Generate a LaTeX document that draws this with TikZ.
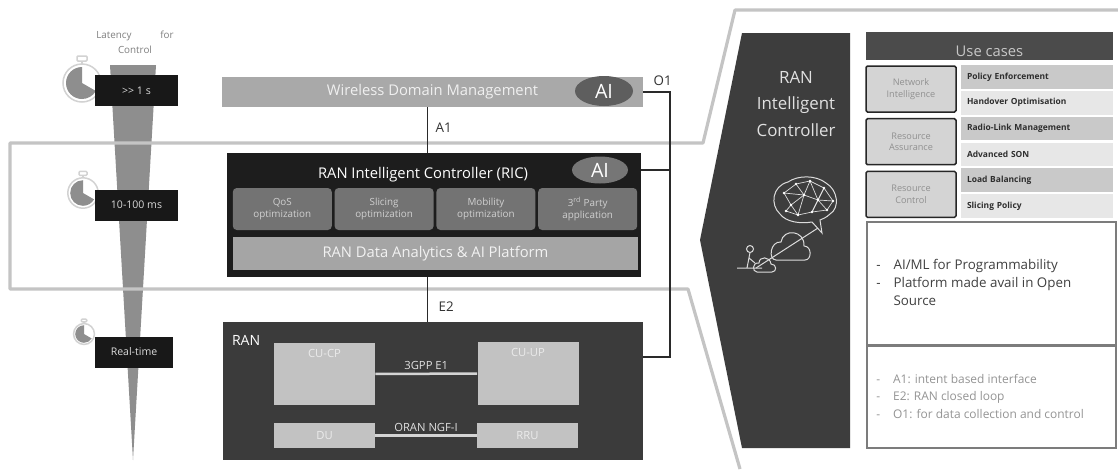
\documentclass[tikz,border=0pt]{standalone}
\usepackage{fontspec}
\setmainfont{Open Sans}
\usepackage{tikz}
\usetikzlibrary{positioning,shapes.geometric,calc}
\newlength\pxu
\setlength\pxu{0.025cm}
\definecolor{wedgegray}{HTML}{8E8E8E}
\definecolor{framegray}{HTML}{C4C4C4}
\definecolor{ringgray}{HTML}{D2D2D2}
\definecolor{tagblack}{HTML}{181818}
\definecolor{tagtext}{HTML}{DADADA}
\definecolor{wdmgray}{HTML}{A9A9A9}
\definecolor{aidark}{HTML}{5E5E5E}
\definecolor{ricblack}{HTML}{1D1D1D}
\definecolor{appgray}{HTML}{737373}
\definecolor{apptext}{HTML}{D0D0D0}
\definecolor{platgray}{HTML}{A5A5A5}
\definecolor{rangray}{HTML}{3B3B3B}
\definecolor{unitgray}{HTML}{C2C2C2}
\definecolor{linkgray}{HTML}{D4D4D4}
\definecolor{wire}{HTML}{2A2A2A}
\definecolor{panelgray}{HTML}{3D3D3D}
\definecolor{iconline}{HTML}{DCDCDC}
\definecolor{headgray}{HTML}{4B4B4B}
\definecolor{grpfill}{HTML}{D4D4D4}
\definecolor{grptext}{HTML}{909090}
\definecolor{item1}{HTML}{C9C9C9}
\definecolor{item0}{HTML}{E7E7E7}
\definecolor{notegray}{HTML}{7C7C7C}
\tikzset{
  wedge/.style={fill=wedgegray},
  frame/.style={draw=framegray,line width=3.2\pxu,line join=round},
  tag/.style={rectangle,fill=tagblack,text=tagtext,inner sep=0pt,
    minimum height=31\pxu,font=\fontsize{7.5}{9}\selectfont},
  bar/.style={rectangle,inner sep=0pt},
  aibadge/.style={ellipse,inner sep=0pt,text=white,font=\fontsize{14}{16}\selectfont},
  title/.style={text=white,font=\fontsize{10.5}{12}\selectfont},
  app/.style={rectangle,rounded corners=4\pxu,fill=appgray,text=apptext,
    align=center,inner sep=0pt,minimum width=99\pxu,minimum height=42\pxu,
    font=\fontsize{7}{8.5}\selectfont},
  unit/.style={rectangle,fill=unitgray,inner sep=0pt,minimum width=101\pxu,
    text=white!92!black,font=\fontsize{8}{9}\selectfont},
  wire/.style={draw=wire,line width=1.3\pxu},
  link/.style={draw=linkgray,line width=2.5\pxu},
  linklbl/.style={text=white!88!black,inner sep=1pt,font=\fontsize{8}{9}\selectfont},
  ifc/.style={text=black!80,inner sep=1pt,font=\fontsize{9.5}{11}\selectfont},
  icon/.style={draw=iconline,line width=1\pxu},
  grp/.style={rectangle,fill=grpfill,draw=black!85,line width=1.5\pxu,
    rounded corners=1.5\pxu,minimum width=90\pxu,minimum height=46\pxu,
    align=center,text=grptext,inner sep=0pt,font=\fontsize{6.5}{8}\selectfont},
  item/.style={rectangle,minimum height=23.5\pxu,inner xsep=6\pxu,inner ysep=0pt,
    text width=140\pxu,align=left,text=black!82,font=\bfseries\fontsize{6}{7}\selectfont},
  note/.style={rectangle,draw=notegray,fill=white,line width=1.3\pxu,
    minimum width=249\pxu,inner sep=0pt},
  watch/.pic={
    \draw[draw=ringgray,line width=2\pxu] (0,-19) -- (0,-22);
    \draw[draw=ringgray,fill=white,line width=1.5\pxu,rounded corners=1\pxu]
      (-5,-27) rectangle (5,-22);
    \draw[draw=ringgray,fill=white,line width=1.5\pxu] (0,0) circle[radius=19];
    \fill[wedgegray] (0,0) -- (0,-16) arc[start angle=-90,end angle=-330,radius=16] -- cycle;
  },
}

\begin{document}
\begin{tikzpicture}[x=\pxu,y=-\pxu]
  \fill[white] (0,0) rectangle (1118,469);
  \useasboundingbox (0,0) rectangle (1118,469);

  % latency scale on the left
  \fill[wedge] (110,65) -- (156,65) -- (133,460) -- cycle;
  \node[text=black!50,align=center,font=\fontsize{7}{10.5}\selectfont] (latency) at (135,42)
    {\makebox[55pt][s]{Latency\hfill for}\\Control};

  % band around the near-RT layer
  \draw[frame] (1118,10) -- (735,10) -- (703,143) -- (10,143) -- (10,289)
    -- (688,289) -- (740,469);

  \pic at (82,83) {watch};
  \pic[scale=0.8] at (83,193) {watch};
  \pic[scale=0.55] at (84,334) {watch};
  \node[tag,minimum width=83\pxu] (slow) at (136.5,90.5) {>{}> 1 s};
  \node[tag,minimum width=83\pxu] (mid) at (136.5,205) {10-100 ms};
  \node[tag,minimum width=78\pxu] (rt) at (134,352) {Real-time};

  % management, RIC and RAN stack
  \coordinate (spine) at (427.5,0);
  \node[bar,fill=wdmgray,minimum width=421\pxu,minimum height=30\pxu,
    text=white!94!black,font=\fontsize{10.5}{12}\selectfont] (wdm) at (432.5,92)
    {Wireless Domain Management};
  \node[aibadge,fill=aidark,minimum width=58\pxu,minimum height=30\pxu] (wdmai) at (604,91) {AI};

  \node[bar,fill=ricblack,minimum width=414\pxu,minimum height=124\pxu] (ric) at (434,215) {};
  \node[title] (rictitle) at (423,175) {RAN Intelligent Controller (RIC)};
  \node[aibadge,fill=aidark!85!white,minimum width=56\pxu,minimum height=27\pxu] (ricai) at (600,170) {AI};
  \foreach \txt [count=\i] in {QoS\\optimization,Slicing\\optimization,
      Mobility\\optimization,3\textsuperscript{rd} Party\\application}
    \node[app] (app\i) at ({180.5+101.8*\i},209) {\txt};
  \node[bar,fill=platgray,minimum width=405\pxu,minimum height=33\pxu,
    text=white!95!black,font=\fontsize{10.5}{12}\selectfont] (plat) at (435.5,253.5)
    {RAN Data Analytics \& AI Platform};

  \node[bar,fill=rangray,minimum width=420\pxu,minimum height=138\pxu] (ran) at (433,391) {};
  \node[text=white,inner sep=0pt,font=\fontsize{10}{12}\selectfont,
    below right=13\pxu and 9\pxu of ran.north west] (ranlbl) {RAN};
  \node[unit,minimum height=62\pxu] (cucp) at (324.5,374) {};
  \node[unit,minimum height=63\pxu] (cuup) at (528,373.5) {};
  \node[unit,minimum height=25\pxu] (du) at (324.5,435.5) {DU};
  \node[unit,minimum height=25\pxu] (rru) at (527.5,435.5) {RRU};
  \node[unit,fill=none,below=6\pxu of cucp.north] {CU-CP};
  \node[unit,fill=none,below=6\pxu of cuup.north] {CU-UP};
  \draw[link] (cucp) -- node[linklbl,midway,above=1\pxu] {3GPP E1} (cuup);
  \draw[link] (du) -- node[linklbl,midway,above=1\pxu] {ORAN NGF-I} (rru);

  % A1, E2 and O1 interfaces
  \draw[wire] (spine |- wdm.south) -- (spine |- ric.north);
  \node[ifc,anchor=west] (a1) at (434,128) {A1};
  \draw[wire] (spine |- ric.south) -- (spine |- ran.north);
  \node[ifc,anchor=west] (e2) at (437,307) {E2};
  \coordinate (bustop) at (670,92);
  \coordinate (busbot) at (670,357);
  \draw[wire] (wdm.east) -- (bustop) -- (busbot) -- (busbot -| ran.east);
  \draw[wire] (ric.east |- ricai) -- (bustop |- ricai);
  \node[ifc,anchor=west] (o1) at (652,81) {O1};

  % RIC summary panel
  \fill[panelgray] (742,33) -- (850,33) -- (850,448) -- (742,448) -- (700,240) -- cycle;
  \node[text=white!88!black,align=center,font=\fontsize{12}{19}\selectfont] (rictxt) at (796,104)
    {RAN\\Intelligent\\Controller};
  % brain and cloud sketch
  \draw[icon] (780,214) .. controls (770,205) and (772,186) .. (788,182)
    .. controls (798,175) and (816,175) .. (826,183)
    .. controls (838,190) and (840,208) .. (830,214)
    .. controls (826,218) and (822,219) .. (820,220) -- (822,233) -- (812,222)
    .. controls (800,224) and (786,222) .. (780,214) -- cycle;
  \foreach \px/\py [count=\k] in {784/193,796/184,810/181,824/188,833/201,791/205,
      804/195,818/200,812/212,827/210,798/215,786/211}
    \coordinate (n\k) at (\px,\py);
  \foreach \a/\b in {1/2,2/3,3/4,4/5,1/6,1/7,2/7,3/7,3/8,4/8,5/8,5/10,6/7,7/8,
      8/9,8/10,9/10,6/11,7/11,9/11,6/12,11/12,9/4}
    \draw[icon,line width=0.7\pxu] (n\a) -- (n\b);
  \foreach \k in {1,...,12}
    \fill[white] (n\k) circle[radius=1.4];
  \draw[icon] (776,260) -- (805,260) .. controls (812,260) and (812,246) .. (804,246)
    .. controls (805,230) and (783,228) .. (781,242)
    .. controls (770,241) and (768,260) .. (776,260) -- cycle;
  \draw[icon] (757,272) -- (772,272) .. controls (777,272) and (777,264) .. (771,264)
    .. controls (770,256) and (759,256) .. (759,263)
    .. controls (752,262) and (752,272) .. (757,272) -- cycle;
  \draw[icon] (756,268) -- (818,228);
  \draw[icon] (750,249) circle[radius=3.5];
  \draw[icon] (750,252.5) -- (747,268) (737,268) -- (762,268) (749,258) -- (755,263);

  % use cases table
  \node[bar,fill=headgray,minimum width=247\pxu,minimum height=28\pxu] (uchead) at (989.5,46) {};
  \node[text=white!78!black,inner sep=0pt,font=\fontsize{10.5}{12}\selectfont] (uctitle)
    at (989.5,51) {Use cases};
  \foreach \txt [count=\i] in {Network\\Intelligence,Resource\\Assurance,Resource\\Control}
    \node[grp] (grp\i) at (911,{36.3+52.7*\i}) {\txt};
  \foreach \txt [count=\i, evaluate=\i as \tone using {int(mod(\i,2))}] in
      {Policy Enforcement,Handover Optimisation,Radio-Link Management,
       Advanced SON,Load Balancing,Slicing Policy}
    \node[item,fill=item\tone] (uc\i) at (1037,{77+25.8*(\i-1)}) {\txt};

  % notes
  \node[note,minimum height=123\pxu] (goals) at (991.5,283.5) {};
  \node[anchor=west,inner sep=0pt,text=black!75,font=\fontsize{9.5}{13}\selectfont]
    (goaltxt) at (876,284)
    {\begin{tabular}{@{}l@{\hspace{13\pxu}}l@{}}-&AI/ML for Programmability\\
      -&Platform made avail in Open\\ &Source\end{tabular}};
  \node[note,minimum height=102\pxu] (ifcnote) at (991.5,397) {};
  \node[anchor=west,inner sep=0pt,text=black!42,font=\fontsize{8.5}{12.4}\selectfont]
    (ifctxt) at (876,397.5)
    {\begin{tabular}{@{}l@{\hspace{13\pxu}}l@{}}-&A1: intent based interface\\
      -&E2: RAN closed loop\\-&O1: for data collection and control\end{tabular}};
\end{tikzpicture}
\end{document}
